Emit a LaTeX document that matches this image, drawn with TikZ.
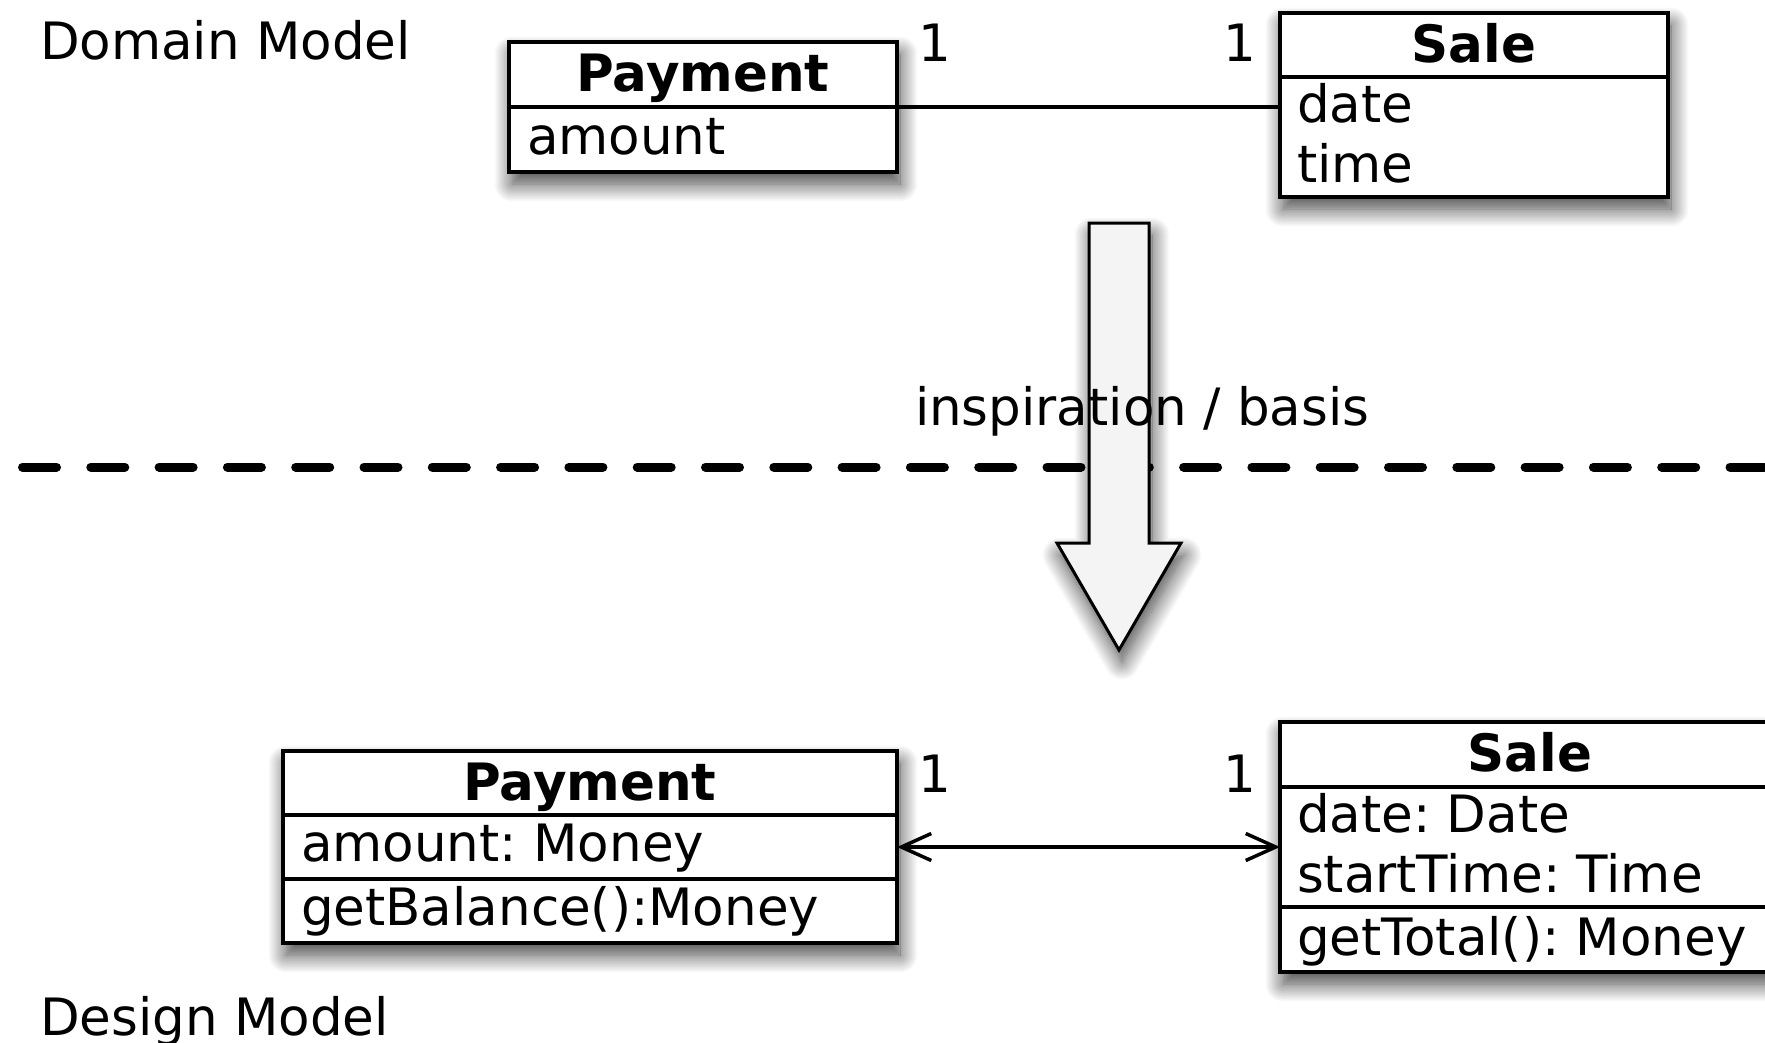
\documentclass[tikz,border=0pt]{standalone}
\usepackage{fontspec}
\setmainfont{DejaVu Sans}
\usetikzlibrary{shadows.blur,arrows.meta}
\definecolor{arrowgray}{HTML}{F4F4F4}
\frenchspacing
\begin{document}
\begin{tikzpicture}[x=1pt,y=-1pt,
  every node/.style={inner sep=0pt, outer sep=0pt, font=\fontsize{51.5}{61}\selectfont},
  softshadow/.style={blur shadow={shadow xshift=3pt, shadow yshift=-12pt, shadow blur radius=18pt, shadow blur steps=20, shadow opacity=75}},
  classbox/.style={draw=black, line width=4pt, fill=white, anchor=north west, softshadow},
  txt/.style={anchor=base west},
  hdr/.style={anchor=base, font=\fontsize{51.5}{61}\selectfont\bfseries},
  mult/.style={anchor=base},
  divline/.style={line width=4pt},
  assoc/.style={line width=3.5pt},
  barb/.style={{Straight Barb[length=30pt,width=27pt]}-{Straight Barb[length=30pt,width=27pt]}},
  sepline/.style={line width=9pt, line cap=round, dash pattern=on 34pt off 34.3pt},
  bigarrow/.style={draw=black, line width=3pt, fill=arrowgray, line join=miter, softshadow},
]
\useasboundingbox (0,0) rectangle (1765,1042);
\clip (0,0) rectangle (1765,1042);

% section labels
\node[txt] (domlabel) at (40,59) {Domain Model};
\node[txt] (deslabel) at (40,1035) {Design Model};

% separator line
\coordinate (sepl) at (22.5,467);
\coordinate (sepr) at (1800,467);
\draw[sepline] (sepl) -- (sepr);

% big arrow
\draw[bigarrow] (1089,223) -- (1149,223) -- (1149,543) -- (1181,543) -- (1119,650)
  -- (1057,543) -- (1089,543) -- cycle;
\node[txt] (insp) at (915,425) {inspiration / basis};

% ---------- Domain model ----------
\node[classbox, minimum width=388pt, minimum height=130pt] (dpay) at (509,42) {};
\draw[divline] ([yshift=-65pt]dpay.north west) -- ([yshift=-65pt]dpay.north east);
\node[hdr] (dpayh) at (703,91) {Payment};
\node[txt] (dpaya) at (527,154) {amount};

\node[classbox, minimum width=388pt, minimum height=184pt] (dsale) at (1280,13) {};
\draw[divline] ([yshift=-64pt]dsale.north west) -- ([yshift=-64pt]dsale.north east);
\node[hdr] (dsaleh) at (1474,62) {Sale};
\node[txt] (dsalea) at (1297,122) {date};
\node[txt] (dsaleb) at (1297,182) {time};

\draw[assoc] (dpay.east) -- (dpay.east -| dsale.west);
\node[mult] (dm1) at (935,61) {1};
\node[mult] (dm2) at (1240,61) {1};

% ---------- Design model ----------
\node[classbox, minimum width=614pt, minimum height=192pt] (gpay) at (283,751) {};
\draw[divline] ([yshift=-64pt]gpay.north west) -- ([yshift=-64pt]gpay.north east);
\draw[divline] ([yshift=-128pt]gpay.north west) -- ([yshift=-128pt]gpay.north east);
\node[hdr] (gpayh) at (590,800) {Payment};
\node[txt] (gpaya) at (301,861) {amount: Money};
\node[txt] (gpayo) at (301,925) {getBalance():Money};

\node[classbox, minimum width=500pt, minimum height=250pt] (gsale) at (1280,722) {};
\draw[divline] ([yshift=-65pt]gsale.north west) -- ([yshift=-65pt]gsale.north east);
\draw[divline] ([yshift=-185pt]gsale.north west) -- ([yshift=-185pt]gsale.north east);
\node[hdr] (gsaleh) at (1530,771) {Sale};
\node[txt] (gsalea) at (1297,832) {date: Date};
\node[txt] (gsaleb) at (1297,892) {startTime: Time};
\node[txt] (gsaleo) at (1297,955) {getTotal(): Money};

\draw[assoc, barb] (gpay.east) -- (gpay.east -| gsale.west);
\node[mult] (gm1) at (935,792) {1};
\node[mult] (gm2) at (1240,792) {1};
\end{tikzpicture}
\end{document}
